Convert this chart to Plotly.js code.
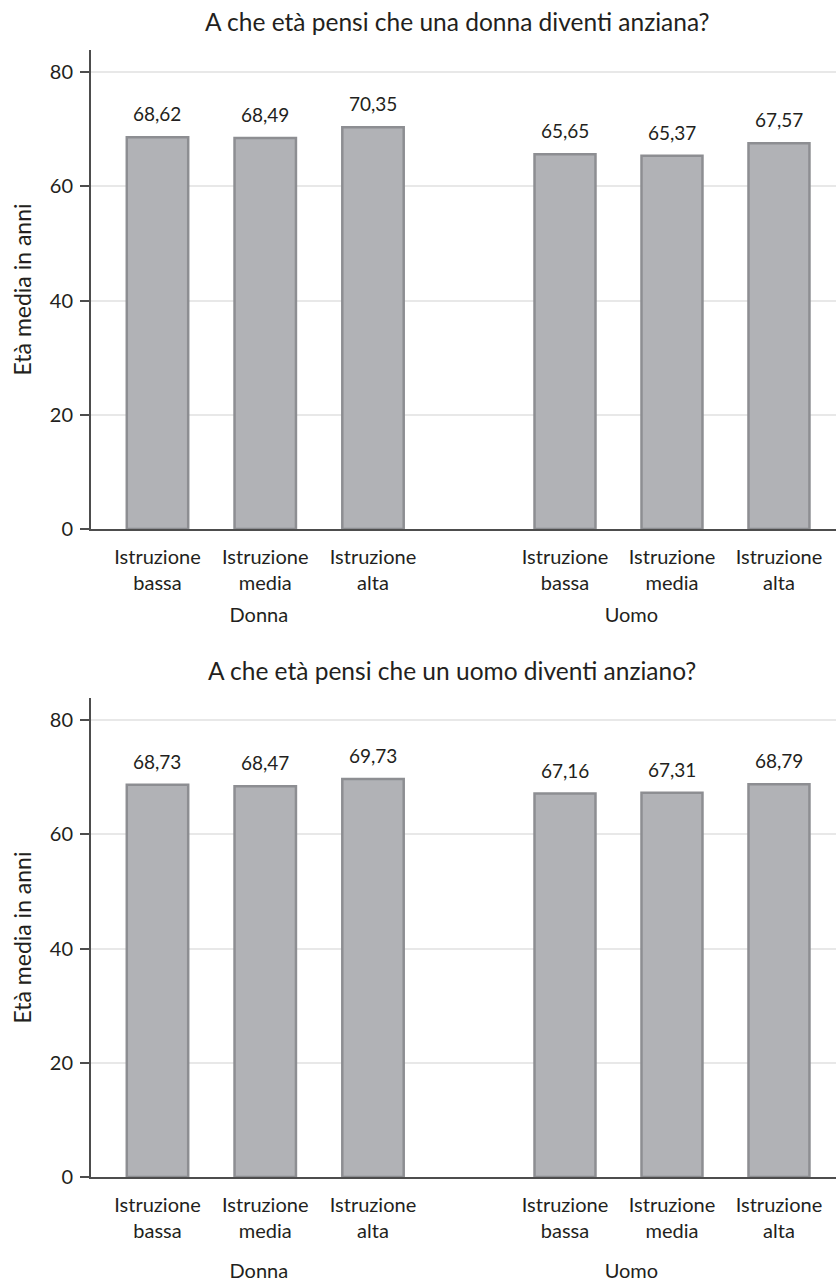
<!DOCTYPE html>
<html>
<head>
<meta charset="utf-8">
<script src="https://cdn.plot.ly/plotly-3.0.1.min.js"></script>
<style>
  html, body { margin: 0; padding: 0; background: #ffffff; }
  #chart { width: 836px; height: 1282px; }
</style>
</head>
<body>
<div id="chart"></div>
<script>
// Average age (years) at which respondents think a person becomes old,
// split by respondent gender and education level.
const groupLabels = ['Donna', 'Uomo'];
const educationLabels = ['Istruzione<br>bassa', 'Istruzione<br>media', 'Istruzione<br>alta'];
const chartTitles = [
  'A che età pensi che una donna diventi anziana?',
  'A che età pensi che un uomo diventi anziano?'
];
const yAxisLabel = 'Età media in anni';
const yTickValues = [0, 20, 40, 60, 80];

// Question 1: old age for a woman
const womanOldDonna = [68.62, 68.49, 70.35];
const womanOldUomo  = [65.65, 65.37, 67.57];
// Question 2: old age for a man
const manOldDonna = [68.73, 68.47, 69.73];
const manOldUomo  = [67.16, 67.31, 68.79];

const FONT = 'Lato, "Open Sans", sans-serif';
const TEXT = '#231f20';
const BAR_FILL = '#b1b2b6';
const BAR_EDGE = '#8d8e92';
const AXIS = '#4d4d4d';
const GRID = '#e8e8e8';

function barTrace(values, xa, ya) {
  return {
    type: 'bar',
    x: educationLabels,
    y: values,
    xaxis: xa,
    yaxis: ya,
    marker: { color: BAR_FILL, line: { color: BAR_EDGE, width: 2.5 } },
    hoverinfo: 'skip',
    showlegend: false
  };
}

function valueLabels(values, xa, ya) {
  return values.map((v, i) => ({
    xref: xa, yref: ya,
    x: educationLabels[i], y: v,
    text: v.toFixed(2).replace('.', ','),
    showarrow: false,
    yanchor: 'bottom',
    yshift: 10,
    font: { family: FONT, size: 19, color: TEXT }
  }));
}

const data = [
  barTrace(womanOldDonna, 'x', 'y'),
  barTrace(womanOldUomo, 'x2', 'y'),
  barTrace(manOldDonna, 'x3', 'y2'),
  barTrace(manOldUomo, 'x4', 'y2')
];

function xAxis(domain, range, title, anchor, standoff) {
  return {
    domain: domain,
    range: range,
    anchor: anchor,
    type: 'category',
    showline: true,
    linecolor: AXIS,
    linewidth: 2,
    ticks: '',
    ticklabelstandoff: 9,
    showgrid: false,
    zeroline: false,
    tickfont: { family: FONT, size: 20, color: TEXT },
    title: { text: title, standoff: standoff, font: { family: FONT, size: 20, color: TEXT } },
    automargin: false,
    fixedrange: true
  };
}

function yAxis(domain, anchor) {
  return {
    domain: domain,
    range: [0, 83.9],
    anchor: anchor,
    tickvals: yTickValues,
    ticks: 'outside',
    ticklen: 9,
    tickwidth: 2,
    tickcolor: AXIS,
    ticklabelstandoff: 3,
    showline: true,
    linecolor: AXIS,
    linewidth: 2,
    showgrid: true,
    gridcolor: GRID,
    gridwidth: 2,
    zeroline: false,
    tickfont: { family: FONT, size: 20, color: TEXT },
    title: { text: yAxisLabel, standoff: 12, font: { family: FONT, size: 23, color: TEXT } },
    automargin: false,
    fixedrange: true
  };
}

const leftDomain = [0, 0.4507];
const rightDomain = [0.4507, 1];
const leftRange = [-0.617, 2.499];
const rightRange = [-1.292, 2.533];

const layout = {
  width: 836,
  height: 1282,
  margin: { l: 91, r: 0, t: 0, b: 0 },
  paper_bgcolor: '#ffffff',
  plot_bgcolor: '#ffffff',
  bargap: 0.43,
  font: { family: FONT, size: 19, color: TEXT },
  title: {
    text: chartTitles[0],
    x: 0.547, xanchor: 'center',
    y: 1 - 22 / 1282, yanchor: 'middle', yref: 'container',
    font: { family: FONT, size: 24.5, color: TEXT }
  },
  xaxis:  xAxis(leftDomain, leftRange, groupLabels[0], 'y', 15),
  xaxis2: xAxis(rightDomain, rightRange, groupLabels[1], 'y', 15),
  xaxis3: xAxis(leftDomain, leftRange, groupLabels[0], 'y2', 25),
  xaxis4: xAxis(rightDomain, rightRange, groupLabels[1], 'y2', 25),
  yaxis:  yAxis([0.5874, 0.961], 'x'),
  yaxis2: yAxis([0.0819, 0.4555], 'x3'),
  annotations: [
    {
      xref: 'paper', yref: 'paper',
      x: 0.485, y: 1 - 670 / 1282,
      xanchor: 'center', yanchor: 'middle',
      text: chartTitles[1],
      showarrow: false,
      font: { family: FONT, size: 24.5, color: TEXT }
    }
  ].concat(
    valueLabels(womanOldDonna, 'x', 'y'),
    valueLabels(womanOldUomo, 'x2', 'y'),
    valueLabels(manOldDonna, 'x3', 'y2'),
    valueLabels(manOldUomo, 'x4', 'y2')
  )
};

Plotly.newPlot('chart', data, layout, { staticPlot: true, displayModeBar: false });
</script>
</body>
</html>
